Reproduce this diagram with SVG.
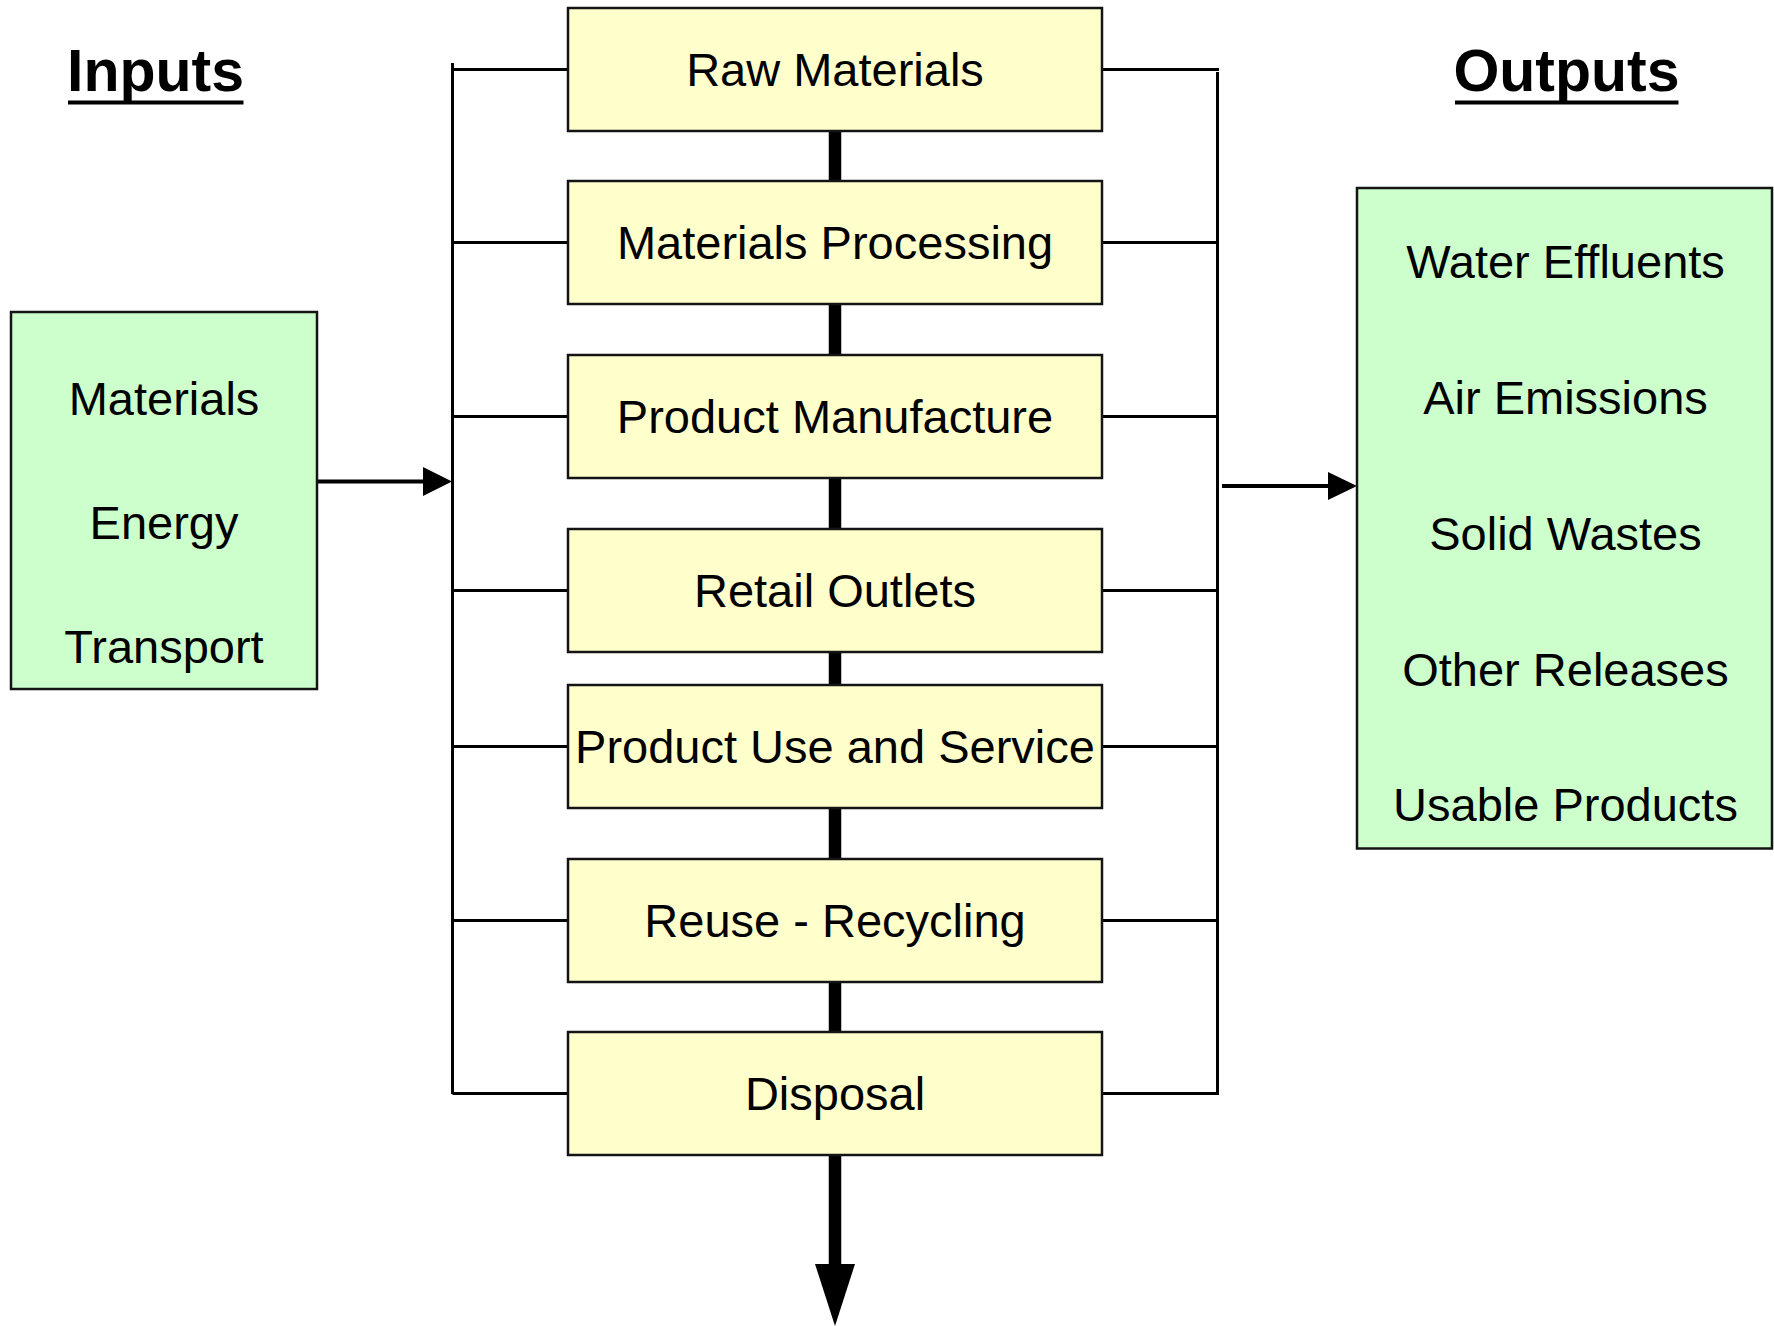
<svg xmlns="http://www.w3.org/2000/svg" width="1774" height="1326" viewBox="0 0 1774 1326">
<style>
  .step { fill: #FFFFCC; stroke: #141414; stroke-width: 2.5; }
  .io { fill: #CCFFCC; stroke: #141414; stroke-width: 2.5; }
  .t { font-family: "Liberation Sans", Arial, sans-serif; font-size: 47px; fill: #000; text-anchor: middle; }
  .title { font-family: "Liberation Sans", Arial, sans-serif; font-size: 59px; font-weight: bold; fill: #000; text-anchor: middle; }
  .thin { stroke: #000; stroke-width: 3; fill: none; }
  .mid { stroke: #000; stroke-width: 4; fill: none; }
  .thick { stroke: #000; stroke-width: 12.5; fill: none; }
  .head { fill: #000; }
</style>
<rect width="1774" height="1326" fill="#FFFFFF"/>

<g id="title-inputs">
  <text class="title" x="155.5" y="91">Inputs</text>
  <rect x="68" y="100.5" width="175.5" height="4" fill="#000"/>
</g>
<g id="title-outputs">
  <text class="title" x="1566.5" y="91">Outputs</text>
  <rect x="1455" y="100.5" width="223.5" height="4" fill="#000"/>
</g>

<g id="connectors">
  <line class="thin" x1="452.5" y1="63" x2="452.5" y2="1094"/>
  <line class="thin" x1="452.5" y1="69.5" x2="568" y2="69.5"/>
  <line class="thin" x1="452.5" y1="242.5" x2="568" y2="242.5"/>
  <line class="thin" x1="452.5" y1="416.5" x2="568" y2="416.5"/>
  <line class="thin" x1="452.5" y1="590.5" x2="568" y2="590.5"/>
  <line class="thin" x1="452.5" y1="746.5" x2="568" y2="746.5"/>
  <line class="thin" x1="452.5" y1="920.5" x2="568" y2="920.5"/>
  <line class="thin" x1="452.5" y1="1093.5" x2="568" y2="1093.5"/>

  <line class="thin" x1="1217.5" y1="72" x2="1217.5" y2="1094.5"/>
  <line class="thin" x1="1102" y1="69.5" x2="1219" y2="69.5"/>
  <line class="thin" x1="1102" y1="242.5" x2="1217.5" y2="242.5"/>
  <line class="thin" x1="1102" y1="416.5" x2="1217.5" y2="416.5"/>
  <line class="thin" x1="1102" y1="590.5" x2="1217.5" y2="590.5"/>
  <line class="thin" x1="1102" y1="746.5" x2="1217.5" y2="746.5"/>
  <line class="thin" x1="1102" y1="920.5" x2="1217.5" y2="920.5"/>
  <line class="thin" x1="1102" y1="1093.5" x2="1219" y2="1093.5"/>

  <line class="thick" x1="835" y1="131" x2="835" y2="181"/>
  <line class="thick" x1="835" y1="304" x2="835" y2="355"/>
  <line class="thick" x1="835" y1="478" x2="835" y2="529"/>
  <line class="thick" x1="835" y1="652" x2="835" y2="685"/>
  <line class="thick" x1="835" y1="808" x2="835" y2="859"/>
  <line class="thick" x1="835" y1="982" x2="835" y2="1032"/>
  <line class="thick" x1="835" y1="1155" x2="835" y2="1266"/>
  <polygon class="head" points="815,1264 855,1264 835,1326"/>

  <line class="mid" x1="317" y1="481.5" x2="425" y2="481.5"/>
  <polygon class="head" points="423,467 452,481.5 423,496"/>

  <line class="mid" x1="1222" y1="486" x2="1330" y2="486"/>
  <polygon class="head" points="1328,472 1357,486 1328,500"/>
</g>

<g id="inputs">
  <rect class="io" x="11" y="312" width="306" height="377"/>
  <text class="t" x="164" y="415">Materials</text>
  <text class="t" x="164" y="539">Energy</text>
  <text class="t" x="164" y="663">Transport</text>
</g>

<g id="outputs">
  <rect class="io" x="1357" y="188" width="415" height="660.5"/>
  <text class="t" x="1565.5" y="278">Water Effluents</text>
  <text class="t" x="1565.5" y="414">Air Emissions</text>
  <text class="t" x="1565.5" y="550">Solid Wastes</text>
  <text class="t" x="1565.5" y="686">Other Releases</text>
  <text class="t" x="1565.5" y="821">Usable Products</text>
</g>

<g id="raw-materials">
  <rect class="step" x="568" y="8" width="534" height="123"/>
  <text class="t" x="835" y="86">Raw Materials</text>
</g>
<g id="materials-processing">
  <rect class="step" x="568" y="181" width="534" height="123"/>
  <text class="t" x="835" y="259">Materials Processing</text>
</g>
<g id="product-manufacture">
  <rect class="step" x="568" y="355" width="534" height="123"/>
  <text class="t" x="835" y="433">Product Manufacture</text>
</g>
<g id="retail-outlets">
  <rect class="step" x="568" y="529" width="534" height="123"/>
  <text class="t" x="835" y="607">Retail Outlets</text>
</g>
<g id="product-use">
  <rect class="step" x="568" y="685" width="534" height="123"/>
  <text class="t" x="835" y="763">Product Use and Service</text>
</g>
<g id="reuse-recycling">
  <rect class="step" x="568" y="859" width="534" height="123"/>
  <text class="t" x="835" y="937">Reuse - Recycling</text>
</g>
<g id="disposal">
  <rect class="step" x="568" y="1032" width="534" height="123"/>
  <text class="t" x="835" y="1110">Disposal</text>
</g>
</svg>
